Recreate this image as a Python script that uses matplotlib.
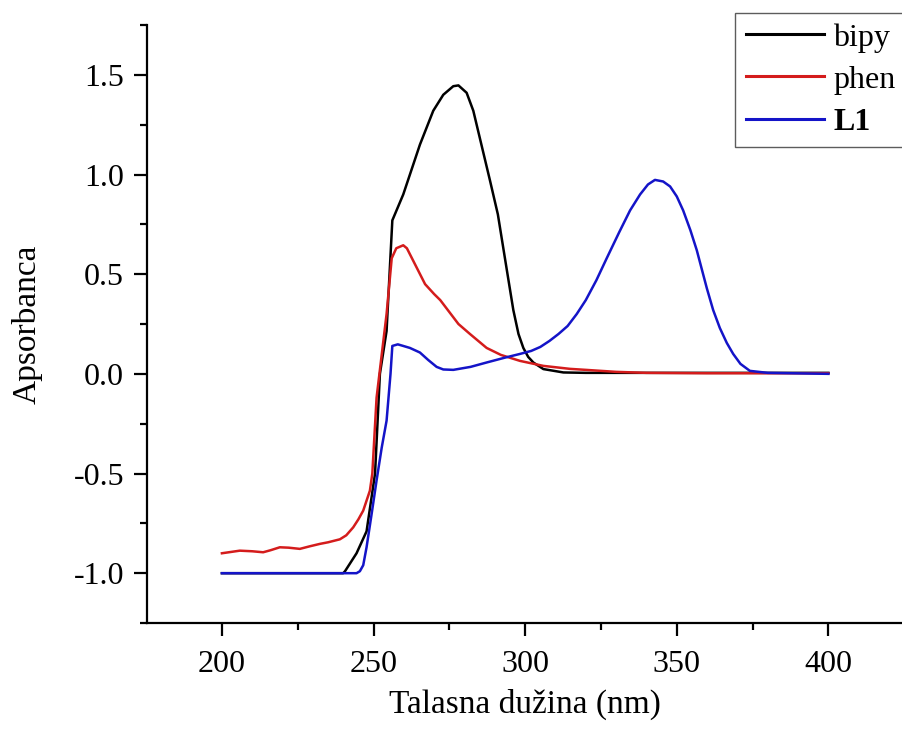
import matplotlib
matplotlib.use('Agg')
import matplotlib.pyplot as plt
from matplotlib.ticker import MultipleLocator

# wavelength (nm) / absorbance
bipy_x = [200, 240, 240.6, 244.4, 247.7, 250.5, 252.1, 254.3, 256.2, 259.8, 265.3,
          269.7, 273, 276.3, 278, 280.7, 282.9, 285.1, 288.4, 291, 292.8, 294.5,
          296.1, 297.8, 299.4, 301, 302.7, 306, 312.6, 320, 340, 360, 380, 400]
bipy_y = [-1, -1, -0.99, -0.9, -0.79, -0.5, 0.0, 0.215, 0.77, 0.9, 1.15,
          1.32, 1.40, 1.443, 1.447, 1.41, 1.32, 1.18, 0.97, 0.80, 0.63, 0.47,
          0.32, 0.2, 0.13, 0.085, 0.057, 0.024, 0.007, 0.005, 0.005, 0.005, 0.005, 0.005]

phen_x = [200, 205.9, 210, 213.6, 216, 219.1, 222, 225.7, 229, 232.3, 235, 238.9,
          241, 243.3, 245, 246.6, 248.8, 249.6, 251, 254.3, 256, 257.5, 259.8, 261,
          264, 267, 270, 272, 275, 278, 281.8, 287.3, 292, 298.3, 306, 314.8,
          320, 330, 340, 360, 380, 400]
phen_y = [-0.90, -0.887, -0.89, -0.895, -0.885, -0.87, -0.872, -0.878, -0.865, -0.853,
          -0.845, -0.83, -0.81, -0.77, -0.73, -0.686, -0.586, -0.5, -0.12, 0.30, 0.58,
          0.63, 0.645, 0.63, 0.54, 0.45, 0.40, 0.37, 0.31, 0.25, 0.2, 0.13, 0.095,
          0.065, 0.04, 0.025, 0.02, 0.01, 0.005, 0.003, 0.003, 0.003]

l1_x = [200, 244.4, 245.5, 246.6, 247.7, 249.4, 251, 252.7, 254.3, 255.6, 256.2,
        258, 259.8, 262, 265.3, 268, 270.8, 273, 276.3, 282, 287.3, 293, 298.3,
        302, 305, 308, 311, 314, 317, 320, 323.5, 326.9, 331, 334.6, 337.9, 340.5,
        342.8, 345.5, 347.8, 350, 352.1, 354.5, 356.6, 359.9, 362, 364.2, 366.5,
        368.6, 371, 374.1, 380, 400]
l1_y = [-1, -1, -0.99, -0.96, -0.87, -0.70, -0.535, -0.37, -0.235, 0.0, 0.14,
        0.148, 0.14, 0.13, 0.107, 0.07, 0.035, 0.022, 0.02, 0.035, 0.057, 0.08, 0.10,
        0.115, 0.135, 0.165, 0.2, 0.24, 0.30, 0.37, 0.47, 0.58, 0.71, 0.82, 0.90, 0.95,
        0.973, 0.965, 0.94, 0.89, 0.82, 0.72, 0.62, 0.43, 0.32, 0.23, 0.155,
        0.10, 0.05, 0.015, 0.005, 0.0]

plt.rcParams['font.family'] = ['Liberation Serif', 'DejaVu Serif']

fig = plt.figure(figsize=(9.03, 7.31), dpi=100)
ax = fig.add_axes([0.1628, 0.1477, 1 - 0.1628, 0.8181])

ax.plot(bipy_x, bipy_y, color='black', lw=1.8, label='bipy')
ax.plot(phen_x, phen_y, color='#d41c1c', lw=1.8, label='phen')
ax.plot(l1_x, l1_y, color='#1414c8', lw=1.8, label='L1')

ax.set_xlim(175.3, 424.6)
ax.set_ylim(-1.25, 1.75)
ax.xaxis.set_major_locator(MultipleLocator(50))
ax.xaxis.set_minor_locator(MultipleLocator(25))
ax.yaxis.set_major_locator(MultipleLocator(0.5))
ax.yaxis.set_minor_locator(MultipleLocator(0.25))
ax.xaxis.set_major_formatter(plt.FuncFormatter(lambda v, p: '%d' % v))
ax.yaxis.set_major_formatter(plt.FuncFormatter(lambda v, p: '%.1f' % v))

for s in ['top', 'right']:
    ax.spines[s].set_visible(False)
for s in ['left', 'bottom']:
    ax.spines[s].set_linewidth(1.6)

ax.tick_params(which='major', direction='out', length=9.5, width=1.6, labelsize=23)
ax.tick_params(axis='x', which='major', pad=10)
ax.tick_params(axis='y', which='major', pad=7)
ax.tick_params(which='minor', direction='out', length=5, width=1.6)

ax.set_xlabel('Talasna dužina (nm)', fontsize=24, labelpad=7)
ax.set_ylabel('Apsorbanca', fontsize=24, labelpad=22)

leg = fig.legend(loc='upper left', bbox_to_anchor=(735 / 903, 1 - 12.5 / 731),
                 fontsize=23, frameon=True, fancybox=False, borderaxespad=0,
                 handlelength=2.45, handletextpad=0.3, labelspacing=0.4,
                 borderpad=0.33)
leg.get_frame().set_edgecolor('#333333')
leg.get_frame().set_linewidth(1.0)
leg.get_texts()[2].set_fontweight('bold')
for h in leg.get_lines():
    h.set_linewidth(2.2)

fig.savefig('out.png', dpi=100)
